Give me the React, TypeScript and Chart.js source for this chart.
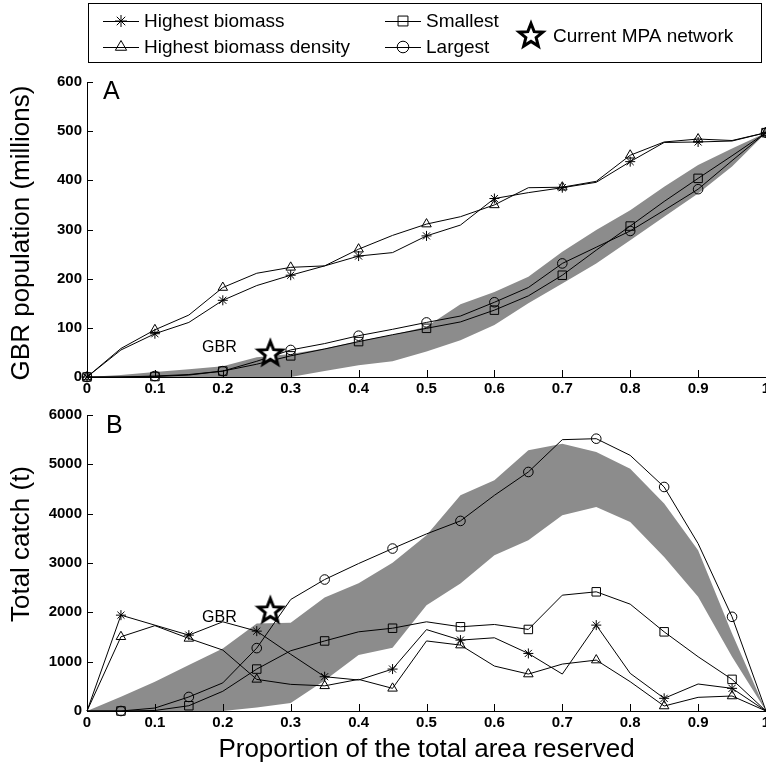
import React, { useEffect, useRef } from 'react';
import { Chart, registerables } from 'chart.js';
import { drawPoint } from 'chart.js/helpers';

Chart.register(...registerables);

const FONT = '"Liberation Sans", Arial, Helvetica, sans-serif';

// ---------- data ----------
const proportions = [0, 0.05, 0.1, 0.15, 0.2, 0.25, 0.3, 0.35, 0.4, 0.45, 0.5, 0.55, 0.6, 0.65, 0.7, 0.75, 0.8, 0.85, 0.9, 0.95, 1];

const seriesLabels = ['Highest biomass', 'Highest biomass density', 'Smallest', 'Largest'];
const currentNetworkLabel = 'Current MPA network';
const gbrText = 'GBR';

// Panel A: GBR population (millions)
const popHighestBiomass = [0, 55, 88, 111, 156, 186, 207, 226, 246, 253, 287, 309, 363, 375, 385, 396, 438, 477, 478, 480, 497];
const popHighestDensity = [0, 58, 96, 126, 182, 211, 223, 226, 260, 288, 311, 326, 350, 385, 386, 398, 451, 478, 484, 481, 497];
const popSmallest = [0, 0, 1, 4, 12, 26, 43, 57, 72, 86, 99, 112, 136, 165, 207, 258, 307, 357, 404, 450, 497];
const popLargest = [0, 0, 2, 5, 12, 32, 55, 68, 84, 97, 111, 124, 152, 182, 231, 264, 297, 339, 382, 440, 497];
const popBandLow = [0, 0, 0, 0, 0, 0, 0, 12, 24, 32, 52, 75, 106, 150, 190, 231, 278, 326, 373, 428, 497];
const popBandHigh = [0, 4, 10, 16, 22, 40, 47, 58, 73, 86, 102, 148, 173, 204, 255, 299, 339, 387, 431, 465, 497];

// Panel B: Total catch (t)
const catchHighestBiomass = [0, 1943, 1740, 1538, 1808, 1619, 1150, 695, 628, 850, 1650, 1437, 1484, 1167, 749, 1741, 763, 257, 547, 459, 0];
const catchHighestDensity = [0, 1505, 1730, 1471, 1235, 641, 540, 510, 641, 459, 1420, 1336, 911, 749, 951, 1032, 594, 101, 277, 304, 0];
const catchSmallest = [0, 0, 10, 107, 400, 850, 1221, 1420, 1605, 1678, 1808, 1707, 1754, 1653, 2348, 2416, 2166, 1605, 1100, 641, 0];
const catchLargest = [0, 0, 60, 285, 570, 1275, 2260, 2665, 2989, 3293, 3590, 3853, 4372, 4845, 5500, 5520, 5182, 4541, 3394, 1909, 0];
const catchBandLow = [0, 0, 0, 0, 0, 70, 160, 620, 1134, 1280, 2146, 2584, 3158, 3462, 3968, 4136, 3832, 3123, 2314, 1100, 0];
const catchBandHigh = [0, 290, 594, 931, 1268, 1775, 1788, 2300, 2590, 3003, 3563, 4372, 4676, 5283, 5418, 5250, 4913, 4204, 3259, 1572, 0];

// Current MPA network
const gbrProportion = 0.27;
const gbrPopulation = 49;
const gbrCatch = 2045;
// GBR text anchor (data coordinates)
const gbrTextProportion = 0.195;
const gbrTextPopulation = 59;
const gbrTextCatch = 1893;

const popTicksMax = 600;
const popTickStep = 100;
const catchTicksMax = 6000;
const catchTickStep = 1000;
const proportionStep = 0.1;

const titles = {
  yA: 'GBR population (millions)',
  yB: 'Total catch (t)',
  x: 'Proportion of the total area reserved',
};

const seriesStyles = ['star', 'triangle', 'rect', 'circle'];
const markerRadius = [5, 5.5, 6, 4.8];

// ---------- helpers ----------
function makeStarImage(): HTMLCanvasElement {
  const size = 32;
  const c = document.createElement('canvas');
  c.width = size;
  c.height = size;
  const g = c.getContext('2d')!;
  const cx = size / 2, cy = size / 2 + 1, R = 12.5, r = 5.4;
  g.beginPath();
  for (let i = 0; i < 10; i++) {
    const ang = -Math.PI / 2 + (i * Math.PI) / 5;
    const rad = i % 2 === 0 ? R : r;
    g.lineTo(cx + rad * Math.cos(ang), cy + rad * Math.sin(ang));
  }
  g.closePath();
  g.fillStyle = '#fff';
  g.fill();
  g.lineWidth = 3;
  g.lineJoin = 'miter';
  g.strokeStyle = '#000';
  g.stroke();
  return c;
}

function lineDataset(label: string, values: number[], style: string, radius: number, parity: number) {
  return {
    label,
    data: proportions.map((p, i) => ({ x: p, y: values[i] })),
    borderColor: '#000',
    borderWidth: 1,
    pointStyle: style,
    pointRadius: (ctx: any) => (ctx.dataIndex % 2 === parity ? radius : 0),
    pointBorderColor: '#000',
    pointBackgroundColor: 'rgba(0,0,0,0)',
    pointBorderWidth: 1,
    tension: 0,
    fill: false,
    clip: false,
    order: 1,
  };
}

function bandDatasets(low: number[], high: number[]) {
  return [
    {
      label: 'band-low',
      data: proportions.map((p, i) => ({ x: p, y: low[i] })),
      borderWidth: 0,
      borderColor: 'rgba(0,0,0,0)',
      pointRadius: 0,
      fill: false,
      order: 5,
    },
    {
      label: 'band-high',
      data: proportions.map((p, i) => ({ x: p, y: high[i] })),
      borderWidth: 0,
      borderColor: 'rgba(0,0,0,0)',
      backgroundColor: '#8c8c8c',
      pointRadius: 0,
      fill: '-1',
      order: 5,
    },
  ];
}

const inwardTicks = {
  id: 'inwardTicks',
  afterDatasetsDraw(chart: any) {
    const { ctx, chartArea, scales } = chart;
    const x = scales.x, y = scales.y;
    ctx.save();
    ctx.strokeStyle = '#000';
    ctx.lineWidth = 1;
    ctx.beginPath();
    x.ticks.forEach((t: any) => {
      const px = Math.round(x.getPixelForValue(t.value)) + 0.5;
      ctx.moveTo(px, chartArea.bottom);
      ctx.lineTo(px, chartArea.bottom - 7);
    });
    y.ticks.forEach((t: any) => {
      const py = Math.round(y.getPixelForValue(t.value)) + 0.5;
      ctx.moveTo(chartArea.left, py);
      ctx.lineTo(chartArea.left + 6, py);
    });
    ctx.stroke();
    ctx.restore();
  },
};

const panelText = {
  id: 'panelText',
  afterDraw(chart: any, _args: any, opts: any) {
    const { ctx, scales } = chart;
    ctx.save();
    ctx.fillStyle = '#000';
    ctx.textAlign = 'left';
    ctx.textBaseline = 'alphabetic';
    ctx.font = `25px ${FONT}`;
    ctx.fillText(opts.letter, opts.letterX, opts.letterY);
    ctx.font = `16px ${FONT}`;
    ctx.textAlign = 'center';
    ctx.textBaseline = 'middle';
    ctx.fillText(gbrText, scales.x.getPixelForValue(opts.gbrX), scales.y.getPixelForValue(opts.gbrY));
    ctx.translate(opts.titleX, opts.titleY);
    ctx.rotate(-Math.PI / 2);
    ctx.font = `26px ${FONT}`;
    ctx.fillText(opts.title, 0, 0);
    ctx.restore();
  },
};

function makeLegendPlugin(starImg: HTMLCanvasElement) {
  return {
    id: 'legendBox',
    afterDraw(chart: any) {
      const ctx = chart.ctx;
      ctx.save();
      ctx.strokeStyle = '#000';
      ctx.lineWidth = 1;
      ctx.strokeRect(88.5, 3.5, 673, 59);
      const items = [
        { x: 103, y: 21, i: 0 },
        { x: 103, y: 47, i: 1 },
        { x: 385, y: 21, i: 2 },
        { x: 385, y: 47, i: 3 },
      ];
      ctx.font = `19px ${FONT}`;
      ctx.textBaseline = 'middle';
      ctx.textAlign = 'left';
      items.forEach((it) => {
        ctx.strokeStyle = '#000';
        ctx.beginPath();
        ctx.moveTo(it.x, it.y + 0.5);
        ctx.lineTo(it.x + 36, it.y + 0.5);
        ctx.stroke();
        ctx.fillStyle = 'rgba(0,0,0,0)';
        drawPoint(ctx, { pointStyle: seriesStyles[it.i], radius: markerRadius[it.i] + 1, rotation: 0, borderWidth: 1 } as any, it.x + 18, it.y);
        ctx.fillStyle = '#000';
        ctx.fillText(seriesLabels[it.i], it.x + 41, it.y + 1);
      });
      ctx.drawImage(starImg, 531 - 16, 35 - 16);
      ctx.fillStyle = '#000';
      ctx.fillText(currentNetworkLabel, 553, 37);
      ctx.restore();
    },
  };
}

function buildOptions(cfg: {
  yMax: number; yStep: number; xHeight: number; padTop: number; xTitle?: string; panel: any;
}) {
  return {
    responsive: false,
    animation: false as const,
    events: [] as any[],
    layout: { autoPadding: false, padding: { top: cfg.padTop, left: 0, right: 0, bottom: 0 } },
    plugins: {
      legend: { display: false },
      tooltip: { enabled: false },
      panelText: cfg.panel,
    },
    scales: {
      x: {
        type: 'linear' as const,
        min: 0,
        max: 1,
        grid: { display: false, drawTicks: false },
        border: { display: true, color: '#000', width: 1 },
        ticks: {
          stepSize: proportionStep,
          autoSkip: false,
          maxRotation: 0,
          padding: 3,
          color: '#000',
          font: { family: FONT, size: 15, weight: 'bold' as const },
          callback: (v: any) => String(Math.round(Number(v) * 10) / 10),
        },
        title: cfg.xTitle
          ? { display: true, text: cfg.xTitle, color: '#000', font: { family: FONT, size: 26 }, padding: { top: 0, bottom: 2 } }
          : { display: false },
        afterFit: (s: any) => {
          s.height = cfg.xHeight;
          s.paddingLeft = 0;
          s.paddingRight = 0;
        },
      },
      y: {
        type: 'linear' as const,
        min: 0,
        max: cfg.yMax,
        grid: { display: false, drawTicks: false },
        border: { display: true, color: '#000', width: 1 },
        ticks: {
          stepSize: cfg.yStep,
          padding: 5,
          color: '#000',
          font: { family: FONT, size: 15, weight: 'bold' as const },
          callback: (v: any) => String(Math.round(Number(v))),
        },
        afterFit: (s: any) => {
          s.width = 87;
        },
      },
    },
  };
}

export default function App() {
  const refA = useRef<HTMLCanvasElement>(null);
  const refB = useRef<HTMLCanvasElement>(null);

  useEffect(() => {
    Chart.defaults.font.family = FONT;
    const starImg = makeStarImage();

    const mpaDataset = (y: number) => ({
      label: currentNetworkLabel,
      data: [{ x: gbrProportion, y }],
      showLine: false,
      pointStyle: starImg as any,
      pointRadius: 12,
      clip: false,
      order: 0,
    });

    const chartA = new Chart(refA.current!, {
      type: 'line',
      data: {
        datasets: [
          lineDataset(seriesLabels[0], popHighestBiomass, seriesStyles[0], markerRadius[0], 0),
          lineDataset(seriesLabels[1], popHighestDensity, seriesStyles[1], markerRadius[1], 0),
          lineDataset(seriesLabels[2], popSmallest, seriesStyles[2], markerRadius[2], 0),
          lineDataset(seriesLabels[3], popLargest, seriesStyles[3], markerRadius[3], 0),
          mpaDataset(gbrPopulation),
          ...bandDatasets(popBandLow, popBandHigh),
        ] as any,
      },
      options: buildOptions({
        yMax: popTicksMax,
        yStep: popTickStep,
        xHeight: 23,
        padTop: 82,
        panel: {
          letter: 'A', letterX: 103, letterY: 99,
          gbrX: gbrTextProportion, gbrY: gbrTextPopulation,
          title: titles.yA, titleX: 22, titleY: 233,
        },
      }) as any,
      plugins: [inwardTicks, panelText, makeLegendPlugin(starImg)],
    });

    const chartB = new Chart(refB.current!, {
      type: 'line',
      data: {
        datasets: [
          lineDataset(seriesLabels[0], catchHighestBiomass, seriesStyles[0], markerRadius[0], 1),
          lineDataset(seriesLabels[1], catchHighestDensity, seriesStyles[1], markerRadius[1], 1),
          lineDataset(seriesLabels[2], catchSmallest, seriesStyles[2], markerRadius[2], 1),
          lineDataset(seriesLabels[3], catchLargest, seriesStyles[3], markerRadius[3], 1),
          mpaDataset(gbrCatch),
          ...bandDatasets(catchBandLow, catchBandHigh),
        ] as any,
      },
      options: buildOptions({
        yMax: catchTicksMax,
        yStep: catchTickStep,
        xHeight: 56,
        padTop: 15,
        xTitle: titles.x,
        panel: {
          letter: 'B', letterX: 106, letterY: 33,
          gbrX: gbrTextProportion, gbrY: gbrTextCatch,
          title: titles.yB, titleX: 22, titleY: 144,
        },
      }) as any,
      plugins: [inwardTicks, panelText],
    });

    return () => {
      chartA.destroy();
      chartB.destroy();
    };
  }, []);

  return (
    <div style={{ position: 'absolute', left: 0, top: 0, width: 766, height: 767, background: '#fff', overflow: 'hidden' }}>
      <canvas ref={refA} width={766} height={400} style={{ position: 'absolute', left: 0, top: 0, display: 'block' }} />
      <canvas ref={refB} width={766} height={367} style={{ position: 'absolute', left: 0, top: 400, display: 'block' }} />
    </div>
  );
}
